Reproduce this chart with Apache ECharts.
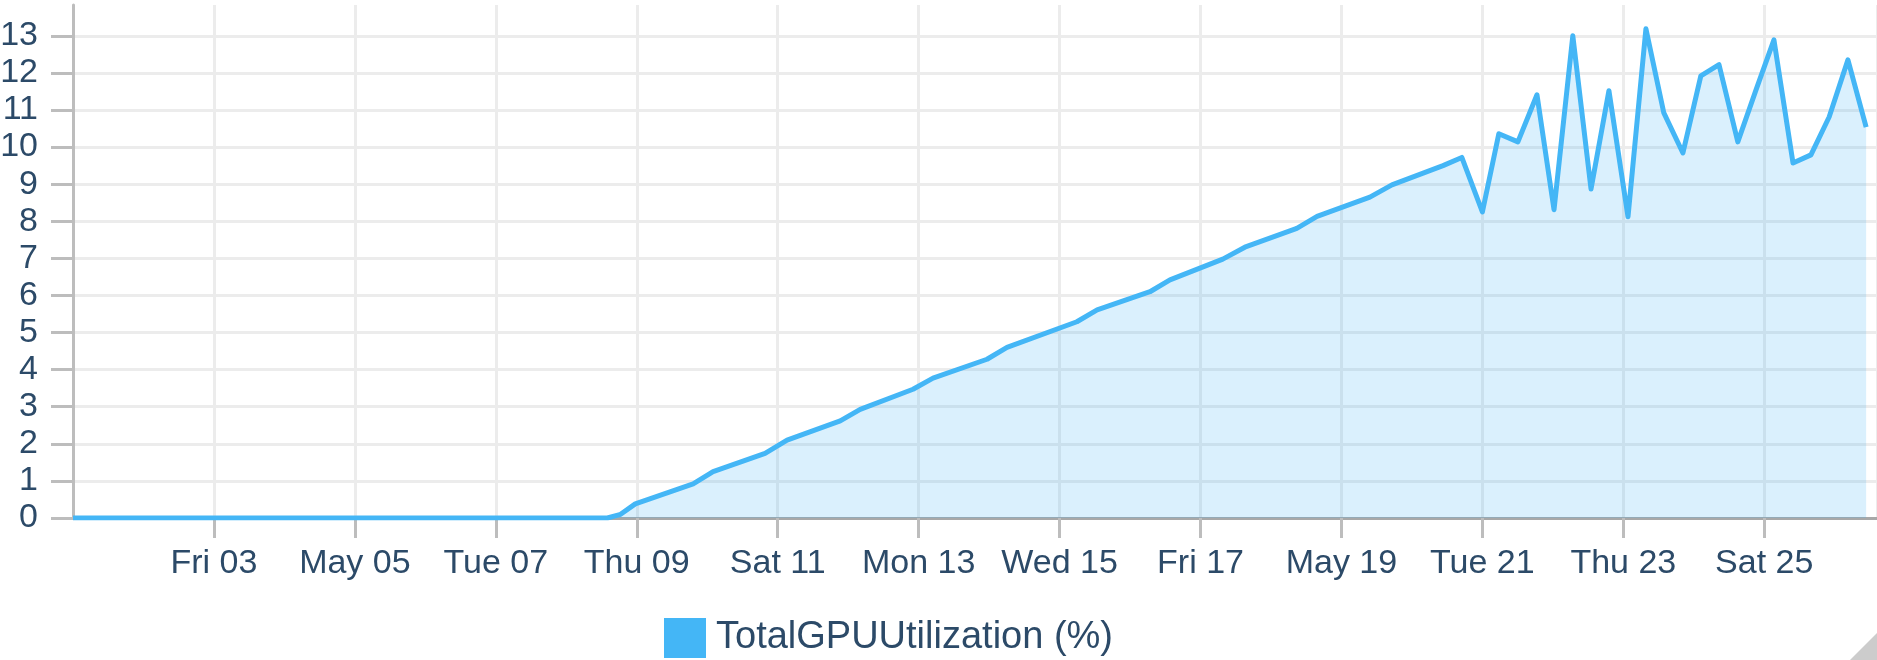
<!DOCTYPE html>
<html lang="en">
<head>
    <meta charset="UTF-8">
    <title>TotalGPUUtilization</title>
    <script type="text/javascript" src="https://cdn.jsdelivr.net/npm/echarts@6/dist/echarts.min.js"></script>
    <style>
        html, body { margin: 0; padding: 0; background: #fff; }
        #gpuChart { width: 1877px; height: 660px; }
    </style>
</head>
<body>
<div id="gpuChart"></div>

<script type="text/javascript">
    // sample times (UTC) and utilisation values
    var sampleTimes = [
        '2019-05-01T00:00', '2019-05-02T00:00', '2019-05-03T00:00', '2019-05-04T00:00',
        '2019-05-05T00:00', '2019-05-06T00:00', '2019-05-07T00:00', '2019-05-08T00:00',
        '2019-05-08T14:00', '2019-05-08T18:30', '2019-05-08T23:30', '2019-05-09T19:12',
        '2019-05-10T02:00', '2019-05-10T19:42', '2019-05-11T03:12', '2019-05-11T21:18',
        '2019-05-12T04:06', '2019-05-12T22:06', '2019-05-13T04:54', '2019-05-13T23:18',
        '2019-05-14T06:06', '2019-05-15T05:54', '2019-05-15T12:48', '2019-05-16T06:48',
        '2019-05-16T13:36', '2019-05-17T07:36', '2019-05-17T15:06', '2019-05-18T08:48',
        '2019-05-18T15:42', '2019-05-19T09:42', '2019-05-19T17:12', '2019-05-20T10:36',
        '2019-05-20T17:00', '2019-05-21T00:00', '2019-05-21T05:36', '2019-05-21T12:06',
        '2019-05-21T18:36', '2019-05-22T00:24', '2019-05-22T06:48', '2019-05-22T13:00',
        '2019-05-22T19:06', '2019-05-23T01:36', '2019-05-23T07:42', '2019-05-23T13:48',
        '2019-05-23T20:18', '2019-05-24T02:24', '2019-05-24T08:36', '2019-05-24T15:00',
        '2019-05-24T21:12', '2019-05-25T03:18', '2019-05-25T09:48', '2019-05-25T15:54',
        '2019-05-25T22:06', '2019-05-26T04:30', '2019-05-26T10:42'
    ];
    var gpuUtil = [
        0, 0, 0, 0,
        0, 0, 0, 0,
        0, 0.10, 0.38, 0.92,
        1.25, 1.74, 2.10, 2.62,
        2.93, 3.47, 3.77, 4.28,
        4.60, 5.29, 5.61, 6.10,
        6.42, 6.98, 7.30, 7.81,
        8.13, 8.65, 8.98, 9.50,
        9.72, 8.25, 10.36, 10.14,
        11.41, 8.31, 13.0, 8.87,
        11.52, 8.12, 13.19, 10.92,
        9.84, 11.92, 12.22, 10.14,
        11.54, 12.89, 9.57, 9.79,
        10.81, 12.35, 10.54
    ];
    var seriesName = 'TotalGPUUtilization (%)';

    var axisStart = '2019-05-01T00:00';
    var axisEnd = '2019-05-26T14:24';
    var dayNames = ['Sun', 'Mon', 'Tue', 'Wed', 'Thu', 'Fri', 'Sat'];
    var monthNames = ['Jan', 'Feb', 'Mar', 'Apr', 'May', 'Jun', 'Jul', 'Aug', 'Sep', 'Oct', 'Nov', 'Dec'];

    var DAY = 24 * 3600 * 1000;
    var textColor = '#2c4a68';
    var lineColor = '#44b6f6';

    function toMs(s) {
        return Date.parse(s + ':00Z');
    }

    function dayLabel(v) {
        var d = new Date(v);
        var dd = ('0' + d.getUTCDate()).slice(-2);
        // sundays get the month name, like d3's default time format
        if (d.getUTCDay() == 0) {
            return monthNames[d.getUTCMonth()] + ' ' + dd;
        }
        return dayNames[d.getUTCDay()] + ' ' + dd;
    }

    var points = [];
    for (var i = 0; i < sampleTimes.length; i++) {
        points.push([toMs(sampleTimes[i]), gpuUtil[i]]);
    }

    var gpuChart = echarts.init(document.getElementById('gpuChart'));

    gpuChart.setOption({
        animation: false,
        textStyle: {
            fontFamily: '"Liberation Sans", Arial, sans-serif'
        },
        grid: {
            left: 73,
            right: 0,
            top: 5,
            bottom: 142,
            containLabel: false,
            outerBoundsMode: 'none'
        },
        legend: {
            data: [seriesName],
            left: 659,
            top: 613,
            icon: 'rect',
            itemWidth: 42,
            itemHeight: 40,
            textStyle: {
                fontSize: 38,
                color: textColor,
                padding: [0, 0, 0, 5]
            }
        },
        xAxis: {
            type: 'value',
            min: toMs(axisStart),
            max: toMs(axisEnd),
            interval: 2 * DAY,
            axisLine: {
                lineStyle: { color: '#a8a8a8', width: 3 }
            },
            axisTick: {
                show: true,
                length: 20,
                lineStyle: { color: '#bdbdbd', width: 3 }
            },
            axisLabel: {
                showMinLabel: false,
                showMaxLabel: false,
                margin: 29,
                fontSize: 34,
                color: textColor,
                formatter: dayLabel
            },
            splitLine: {
                show: true,
                lineStyle: { color: '#ececec', width: 3 }
            }
        },
        yAxis: {
            type: 'value',
            min: 0,
            max: 13.83,
            interval: 1,
            axisLine: {
                show: true,
                lineStyle: { color: '#bdbdbd', width: 3 }
            },
            axisTick: {
                show: true,
                length: 22,
                lineStyle: { color: '#bdbdbd', width: 3 }
            },
            axisLabel: {
                showMaxLabel: false,
                margin: 35,
                fontSize: 34,
                color: textColor
            },
            splitLine: {
                show: true,
                showMaxLine: false,
                lineStyle: { color: '#ececec', width: 3 }
            }
        },
        series: [{
            name: seriesName,
            type: 'line',
            data: points,
            showSymbol: false,
            color: lineColor,
            lineStyle: {
                color: lineColor,
                width: 5,
                join: 'round'
            },
            areaStyle: {
                color: lineColor,
                opacity: 0.2
            }
        }],
        graphic: [{
            // resize handle in the corner
            type: 'polygon',
            shape: { points: [[1850, 660], [1877, 633], [1877, 660]] },
            style: { fill: '#cccccc' }
        }]
    });
</script>
</body>
</html>
